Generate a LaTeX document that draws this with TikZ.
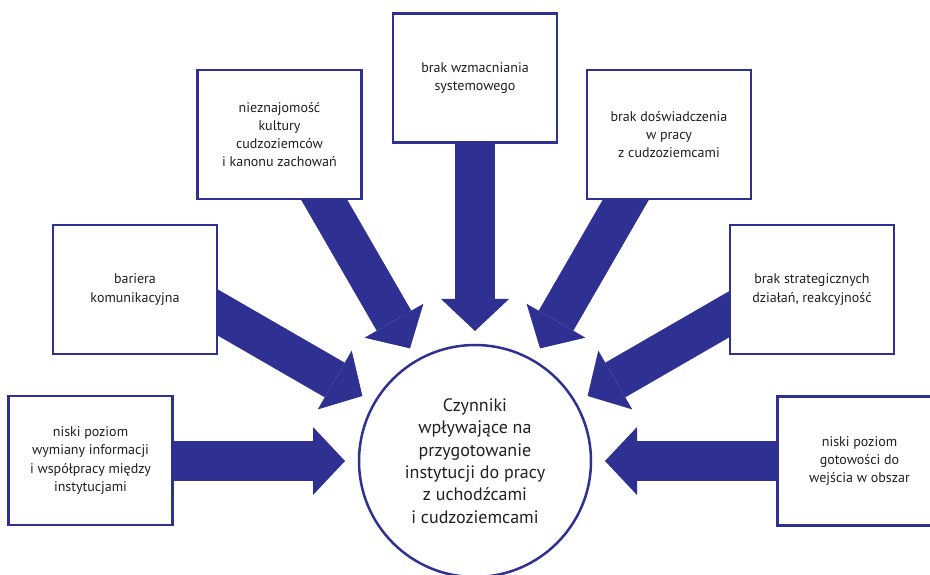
\documentclass[tikz,border=0pt]{standalone}
\usepackage{fontspec}
\setmainfont{PT Sans}
\usetikzlibrary{arrows.meta,calc}
\definecolor{dblue}{HTML}{2E3192}
\definecolor{txt}{HTML}{231F20}
\tikzset{
  factor/.style={draw=dblue, line width=2.5pt, fill=white, rectangle,
    minimum width=164pt, minimum height=129pt, align=center, text=txt,
    font=\fontsize{14}{18.3}\selectfont, inner sep=0pt},
  hub/.style={draw=dblue, line width=2.5pt, fill=white, circle,
    minimum size=232pt, align=center, text=txt,
    font=\fontsize{18}{22.4}\selectfont, inner sep=0pt},
  bigarrow/.style={draw=dblue, line width=40pt,
    -{Triangle[width=68pt,length=32pt,line width=0pt,fill=dblue]}}
}
\begin{document}
\begin{tikzpicture}[x=1pt,y=1pt]
\useasboundingbox (0,0) rectangle (930,574);
\node[hub] (c) at (475,113) {Czynniki\\wpływające na\\przygotowanie\\instytucji do pracy\\z uchodźcami\\i cudzoziemcami};
% arrow tips and tails along rays from the hub centre
\foreach \n/\a/\r in {1/180/380, 2/150/320, 3/120/320, 4/90/330, 5/60/320, 6/30/320, 7/0/380}{
  \coordinate (s\n) at ($(c.center)+(\a:\r)$);
  \coordinate (t\n) at ($(c.center)+(\a:130)$);
}
\foreach \n in {1,...,7}{
  \draw[bigarrow] (s\n) -- (t\n);
}
\node[factor] (b1) at (90.5,113.5) {niski poziom\\wymiany informacji\\i współpracy między\\instytucjami};
\node[factor] (b2) at (135,284.5) {bariera\\komunikacyjna};
\node[factor] (b3) at (279.5,439.5) {nieznajomość\\kultury\\cudzoziemców\\i kanonu zachowań};
\node[factor] (b4) at (475,496) {brak wzmacniania\\systemowego};
\node[factor] (b5) at (669,439.5) {brak doświadczenia\\w pracy\\z cudzoziemcami};
\node[factor] (b6) at (812,284.5) {brak strategicznych\\działań, reakcyjność};
\node[factor] (b7) at (859.5,113) {niski poziom\\gotowości do\\wejścia w obszar};
\end{tikzpicture}
\end{document}
